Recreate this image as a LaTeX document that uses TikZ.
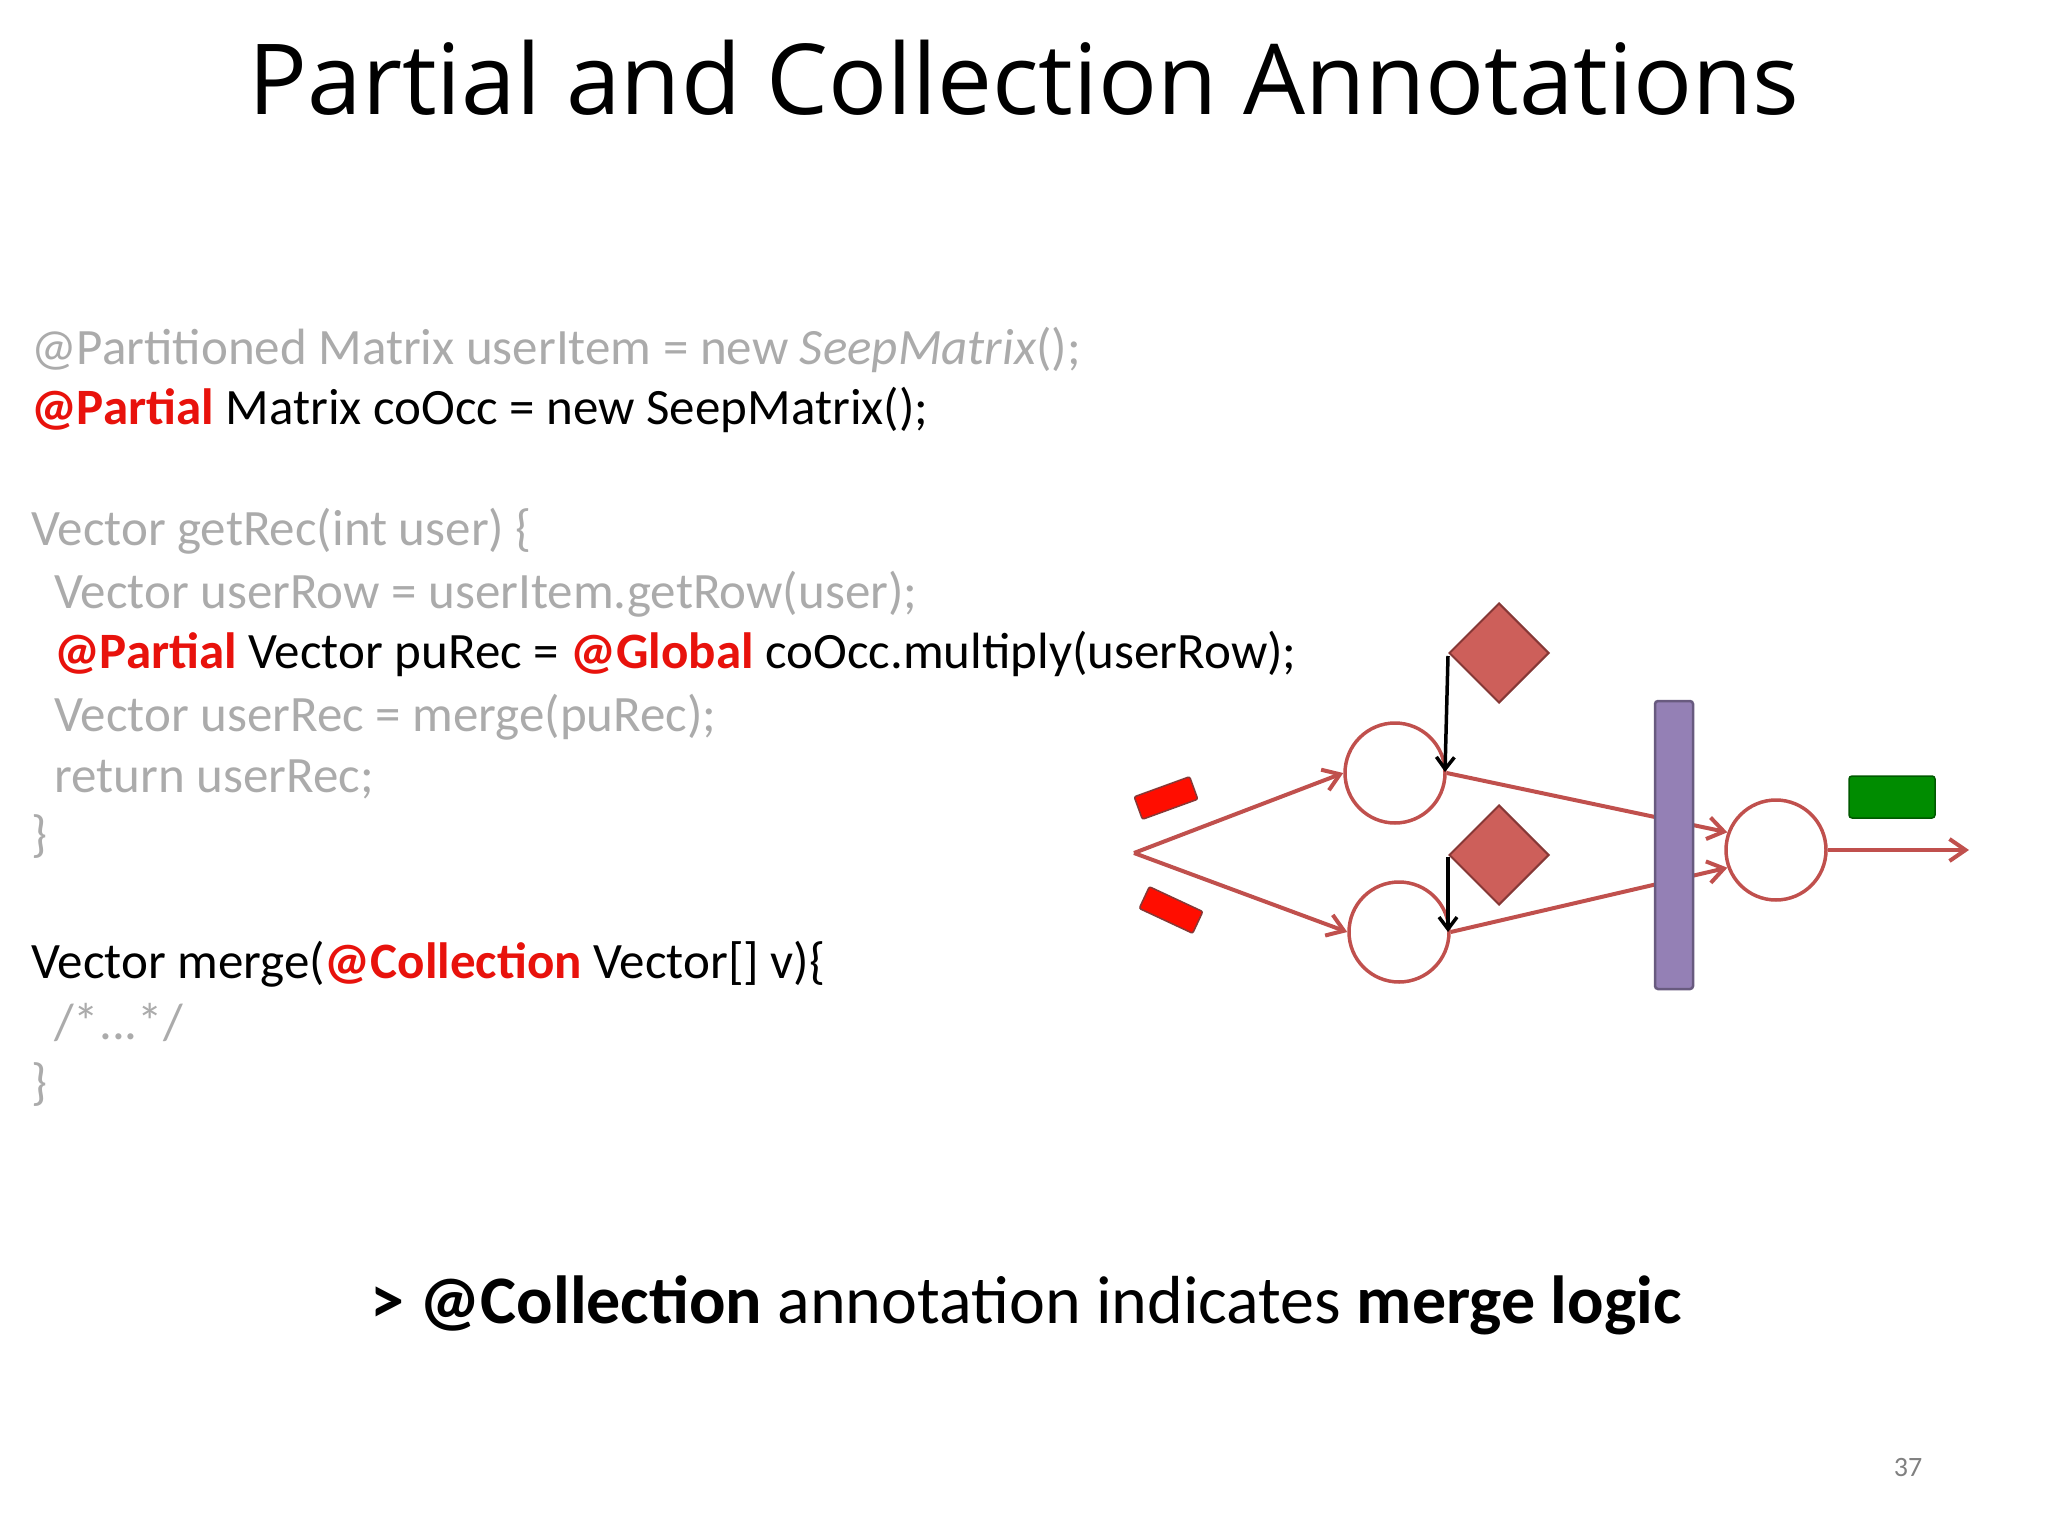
\documentclass[tikz,border=0pt]{standalone}
\usepackage{fontspec}
\setmainfont{Carlito}
\newfontfamily\titlefont{Open Sans}
\usetikzlibrary{arrows.meta,shapes.geometric}
\definecolor{gr}{HTML}{ABABAB}
\definecolor{rd}{HTML}{E8120C}
\definecolor{ln}{HTML}{C0504D}
\definecolor{dm}{HTML}{CD5F5A}
\definecolor{pu}{HTML}{9480B5}
\tikzset{code/.style={anchor=base west,inner sep=0pt,font=\fontsize{51}{56}\selectfont},
 circ/.style={circle,draw=ln,line width=3.5pt,minimum size=100pt,inner sep=0pt},
 rl/.style={draw=ln,line width=4pt,-{Straight Barb[length=16pt,width=22pt]}},
 bl/.style={line width=3.5pt,-{Straight Barb[length=12pt,width=18pt]}},
 dia/.style={diamond,fill=dm,draw=ln!70!black,line width=2pt,minimum size=100pt,inner sep=0pt},
 tok/.style={fill=red!90!orange,draw=ln!70!black,line width=1.5pt,rounded corners=2pt,minimum width=59pt,minimum height=24pt,inner sep=0pt}}
\begin{document}
\begin{tikzpicture}[x=1pt,y=-1pt]
\useasboundingbox (0,0) rectangle (2048,1536);
\node[font=\titlefont\fontsize{98}{104}\selectfont] (title) at (1024,78) {Partial and Collection Annotations};
\node[code,text=gr] (l1) at (31,364) {@Partitioned Matrix userItem = new \textit{SeepMatrix}();};
\node[code] (l2) at (31,424) {\textcolor{rd}{\textbf{@Partial}} Matrix coOcc = new SeepMatrix();};
\node[code,text=gr] (l3) at (31,545) {Vector getRec(int user) \{};
\node[code,text=gr] (l4) at (54,608) {Vector userRow = userItem.getRow(user);};
\node[code] (l5) at (54,668) {\textcolor{rd}{\textbf{@Partial}} Vector puRec = \textcolor{rd}{\textbf{@Global}} coOcc.multiply(userRow);};
\node[code,text=gr] (l6) at (54,731) {Vector userRec = merge(puRec);};
\node[code,text=gr] (l7) at (54,792) {return userRec;};
\node[code,text=gr] (l8) at (31,851) {\}};
\node[code] (l9) at (31,978) {Vector merge(\textcolor{rd}{\textbf{@Collection}} Vector[] v)\{};
\node[code,text=gr] (l10) at (54,1039) {/*...*/};
\node[code,text=gr] (l11) at (31,1099) {\}};
\node[font=\fontsize{68}{74}\selectfont] (bot) at (1026,1305) {\textbf{> @Collection} annotation indicates \textbf{merge logic}};
\node[text=gray,font=\fontsize{28}{32}\selectfont] (pg) at (1908,1467) {37};
% diagram
\coordinate (fan) at (1134,853);
\node[circ] (c1) at (1395,773) {};
\node[circ] (c2) at (1399,932) {};
\node[circ] (c3) at (1776,850) {};
\coordinate (out) at (1969,850);
\draw[rl] (fan) -- (c1.west);
\draw[rl] (fan) -- (c2.west);
\draw[rl] (c1.east) -- (c3.160);
\draw[rl] (c2.east) -- (c3.200);
\draw[rl] (c3.east) -- (out);
\node[fill=pu,draw=pu!70!black,line width=2.5pt,rounded corners=3pt,minimum width=38pt,minimum height=288pt,inner sep=0pt] (bar) at (1674,845) {};
\node[dia] (d1) at (1499,653) {};
\node[dia] (d2) at (1499,855) {};
\coordinate (a1s) at (1448,656);
\coordinate (a1e) at (1445,772);
\coordinate (a2s) at (1448,857);
\coordinate (a2e) at (1448,932);
\draw[bl] (a1s) -- (a1e);
\draw[bl] (a2s) -- (a2e);
\node[tok,rotate=20] (t1) at (1166,798) {};
\node[tok,rotate=-25] (t2) at (1171,910) {};
\node[fill=green!55!black,draw=green!35!black,line width=1.5pt,rounded corners=3pt,minimum width=86pt,minimum height=42pt,inner sep=0pt] (g) at (1892,797) {};
\end{tikzpicture}
\end{document}
